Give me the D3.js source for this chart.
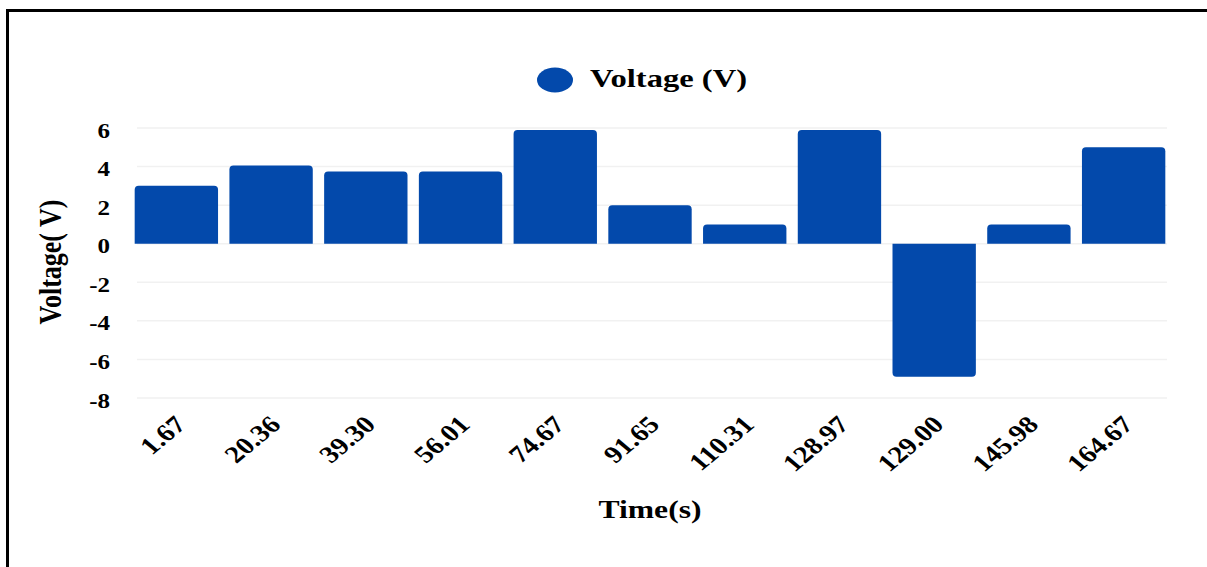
<!DOCTYPE html>
<html>
<head>
<meta charset="utf-8">
<script src="https://cdn.jsdelivr.net/npm/d3@7/dist/d3.min.js"></script>
<style>
  html, body { margin: 0; padding: 0; background: #fff; }
  svg { display: block; }
  text { font-family: "Liberation Serif", "Times New Roman", serif; font-weight: bold; fill: #000; }
</style>
</head>
<body>
<svg id="chart" width="1207" height="567"></svg>
<script>
// ---- data ----
const categories = ["1.67", "20.36", "39.30", "56.01", "74.67", "91.65", "110.31", "128.97", "129.00", "145.98", "164.67"];
const voltage = [3, 4.05, 3.75, 3.75, 5.9, 2, 1, 5.9, -6.9, 1, 5];
const yTicks = [6, 4, 2, 0, -2, -4, -6, -8];
const seriesName = "Voltage (V)";
const xTitle = "Time(s)";
const yTitle = "Voltage( V)";

// ---- layout ----
const W = 1207, H = 567;
const plot = { left: 129, right: 1171, top: 128, bottom: 398 };
const gridX = [137, 1167];
const barColor = "#0349ab";
const sx = 1.2; // horizontal stretch of glyphs seen in the reference

const svg = d3.select("#chart");

// frame
svg.append("rect")
  .attr("x", 7.5).attr("y", 10.5)
  .attr("width", 1400).attr("height", 800)
  .attr("fill", "none").attr("stroke", "#000").attr("stroke-width", 3);

const x = d3.scaleBand()
  .domain(categories)
  .range([plot.left, plot.right])
  .paddingInner(0.12)
  .paddingOuter(0.06);

const y = d3.scaleLinear()
  .domain([-8, 6])
  .range([plot.bottom, plot.top]);

// gridlines
svg.append("g").selectAll("line")
  .data(yTicks)
  .join("line")
  .attr("x1", gridX[0]).attr("x2", gridX[1])
  .attr("y1", d => y(d)).attr("y2", d => y(d))
  .attr("stroke", "#f1f1f1").attr("stroke-width", 1.5);

// bars with rounded outer corners
function barPath(d, i) {
  const x0 = x(categories[i]), w = x.bandwidth();
  const y0 = y(0), y1 = y(d);
  const r = Math.min(4, Math.abs(y1 - y0) / 2);
  if (d >= 0) {
    return `M${x0},${y0} L${x0},${y1 + r} Q${x0},${y1} ${x0 + r},${y1} L${x0 + w - r},${y1} Q${x0 + w},${y1} ${x0 + w},${y1 + r} L${x0 + w},${y0} Z`;
  } else {
    return `M${x0},${y0} L${x0},${y1 - r} Q${x0},${y1} ${x0 + r},${y1} L${x0 + w - r},${y1} Q${x0 + w},${y1} ${x0 + w},${y1 - r} L${x0 + w},${y0} Z`;
  }
}
svg.append("g").selectAll("path")
  .data(voltage)
  .join("path")
  .attr("d", (d, i) => barPath(d, i))
  .attr("fill", barColor);

// y tick labels
svg.append("g").selectAll("text")
  .data(yTicks)
  .join("text")
  .attr("transform", d => `translate(110,${y(d) + 9.5}) scale(1.25,1)`)
  .attr("text-anchor", "end")
  .attr("font-size", 20)
  .text(d => d);

// x tick labels (rotated)
svg.append("g").selectAll("text")
  .data(categories)
  .join("text")
  .attr("transform", d => `translate(${x(d) + x.bandwidth() / 2 + 11},426) scale(${sx},1) rotate(-45)`)
  .attr("text-anchor", "end")
  .attr("font-size", 24)
  .text(d => d);

// axis titles
svg.append("text")
  .attr("x", 650).attr("y", 518)
  .attr("text-anchor", "middle")
  .attr("font-size", 26)
  .attr("textLength", 103).attr("lengthAdjust", "spacingAndGlyphs")
  .text(xTitle);

svg.append("text")
  .attr("transform", "translate(61,262) scale(1.25,1) rotate(-90)")
  .attr("text-anchor", "middle")
  .attr("font-size", 26)
  .text(yTitle);

// legend
svg.append("ellipse")
  .attr("cx", 555).attr("cy", 80)
  .attr("rx", 18).attr("ry", 12.5)
  .attr("fill", barColor);
svg.append("text")
  .attr("x", 590).attr("y", 87)
  .attr("font-size", 25)
  .attr("textLength", 157).attr("lengthAdjust", "spacingAndGlyphs")
  .text(seriesName);
</script>
</body>
</html>
